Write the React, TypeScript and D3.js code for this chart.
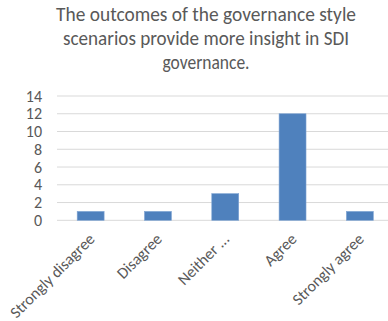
import React from "react";
import * as d3 from "d3";

const titleLines = [
  "The outcomes of the governance style",
  "scenarios provide more insight in SDI",
  "governance.",
];
const categories = ["Strongly disagree", "Disagree", "Neither ...", "Agree", "Strongly agree"];
const counts = [1, 1, 3, 12, 1];
const yTicks = [0, 2, 4, 6, 8, 10, 12, 14];

const W = 388;
const H = 321;
const FONT = "Carlito, Calibri, Lato, 'Liberation Sans', Arial, sans-serif";
const GREY = "#595959";

export default function App() {
  const x = d3.scaleBand<string>().domain(categories).range([57, 393.5]).paddingInner(0.6).paddingOuter(0.3);
  const y = d3.scaleLinear().domain([0, 14]).range([220.3, 96]);
  const titleLens = [300, 286, 87];
  return (
    <svg width={W} height={H} style={{ position: "absolute", left: 0, top: 0, background: "#fff" }}>
      <rect width={W} height={H} fill="#fff" />
      {titleLines.map((t, i) => (
        <text
          key={t}
          x={206}
          y={21 + i * 24}
          textAnchor="middle"
          fontFamily={FONT}
          fontSize={19.5}
          fill={GREY}
          textLength={titleLens[i]}
          lengthAdjust="spacingAndGlyphs"
        >
          {t}
        </text>
      ))}
      {yTicks.map((t) => (
        <g key={t}>
          <line x1={57} x2={393} y1={y(t)} y2={y(t)} stroke="#d9d9d9" strokeWidth={1} />
          <text x={42} y={y(t)} dy="0.35em" textAnchor="end" fontFamily={FONT} fontSize={16} fill={GREY}>
            {t}
          </text>
        </g>
      ))}
      {categories.map((c, i) => (
        <rect
          key={c}
          x={x(c)!}
          y={y(counts[i])}
          width={x.bandwidth()}
          height={y(0) - y(counts[i])}
          fill="#4f81bd"
          stroke="#7ea3d3"
          strokeWidth={0.6}
        />
      ))}
      {categories.map((c) => {
        const cx = x(c)! + x.bandwidth() / 2 + 5;
        const cy = 240;
        return (
          <text
            key={c + "l"}
            x={cx}
            y={cy}
            textAnchor="end"
            transform={`rotate(-45 ${cx} ${cy})`}
            fontFamily={FONT}
            fontSize={16}
            fill={GREY}
          >
            {c}
          </text>
        );
      })}
    </svg>
  );
}
